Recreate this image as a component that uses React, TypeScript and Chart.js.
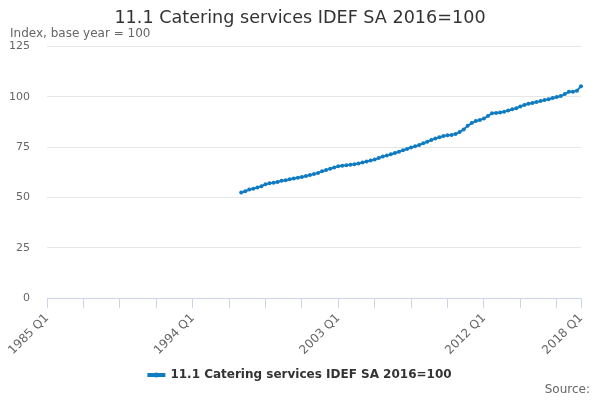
import { Chart, registerables, Plugin } from 'chart.js';
import React, { useEffect, useRef } from 'react';

Chart.register(...registerables);

const titleText = '11.1 Catering services IDEF SA 2016=100';
const subtitleText = 'Index, base year = 100';
const seriesName = '11.1 Catering services IDEF SA 2016=100';

const firstYear = 1985;
const lastYear = 2018;
const dataStart = '1997 Q1';

const yTicks = [0, 25, 50, 75, 100, 125];
const labelledQuarters = ['1985 Q1', '1994 Q1', '2003 Q1', '2012 Q1', '2018 Q1'];

// quarterly index values, 1997 Q1 .. 2018 Q1
const values = [
  52.4, 53.1, 53.9, 54.3,
  54.9, 55.6, 56.6, 57.0,
  57.3, 57.7, 58.3, 58.6,
  59.0, 59.4, 59.8, 60.2,
  60.6, 61.1, 61.6, 62.2,
  63.0, 63.6, 64.3, 64.9,
  65.5, 65.8, 66.0, 66.2,
  66.5, 66.9, 67.4, 67.9,
  68.4, 68.9, 69.6, 70.3,
  70.9, 71.5, 72.1, 72.7,
  73.5, 74.1, 74.8, 75.4,
  76.1, 76.9, 77.7, 78.5,
  79.3, 79.9, 80.5, 80.9,
  81.1, 81.6, 82.5, 83.8,
  85.6, 87.0, 88.0, 88.5,
  89.2, 90.5, 91.8, 92.0,
  92.2, 92.6, 93.2, 93.8,
  94.4, 95.2, 96.0, 96.6,
  97.0, 97.4, 97.9, 98.4,
  98.8, 99.4, 99.9, 100.4,
  101.4, 102.5, 102.6, 103.1,
  105.3,
];

const quarters: string[] = [];
for (let y = firstYear; y <= lastYear; y++) {
  for (let q = 1; q <= 4; q++) {
    if (y === lastYear && q > 1) break;
    quarters.push(`${y} Q${q}`);
  }
}

const startIdx = quarters.indexOf(dataStart);
const series: (number | null)[] = quarters.map((_, i) =>
  i < startIdx ? null : values[i - startIdx] ?? null
);

const blue = '#0f7cc2';
const font = "'DejaVu Sans', sans-serif";

// legend symbol: line with a dot, and the source note
const extras: Plugin = {
  id: 'extras',
  afterDraw(chart) {
    const ctx = chart.ctx;
    const legend: any = chart.legend;
    const box = legend?.legendHitBoxes?.[0];
    ctx.save();
    if (box) {
      const cx = box.left + 8;
      const cy = box.top + box.height / 2;
      ctx.fillStyle = blue;
      ctx.beginPath();
      ctx.arc(cx, cy, 2.5, 0, Math.PI * 2);
      ctx.fill();
    }
    ctx.fillStyle = '#666';
    ctx.font = `12px ${font}`;
    ctx.textAlign = 'right';
    ctx.textBaseline = 'middle';
    ctx.fillText('Source:', 590, 390);
    ctx.restore();
  },
};

const App: React.FC = () => {
  const ref = useRef<HTMLCanvasElement>(null);

  useEffect(() => {
    if (!ref.current) return;
    const chart = new Chart(ref.current, {
      type: 'line',
      data: {
        labels: quarters,
        datasets: [
          {
            label: seriesName,
            data: series,
            borderColor: blue,
            backgroundColor: blue,
            borderWidth: 2,
            pointRadius: 2,
            pointBorderWidth: 0,
            pointBackgroundColor: blue,
          },
        ],
      },
      options: {
        animation: false,
        responsive: false,
        layout: { padding: { left: 10, right: 10, top: 10, bottom: 9 } },
        plugins: {
          title: {
            display: true,
            text: titleText,
            color: '#333',
            font: { family: font, size: 17.6, weight: 'normal', lineHeight: 1 },
            padding: { top: 0, bottom: 0 },
          },
          subtitle: {
            display: true,
            text: subtitleText,
            align: 'start',
            color: '#666',
            font: { family: font, size: 12, lineHeight: 1 },
            padding: { top: 0, bottom: 7 },
          },
          legend: {
            position: 'bottom',
            labels: {
              color: '#333',
              font: { family: font, size: 12, weight: 'bold' },
              boxWidth: 16,
              boxHeight: 2,
              padding: 14,
            },
          },
          tooltip: { enabled: false },
        },
        scales: {
          x: {
            afterFit: (axis: any) => {
              axis.paddingLeft = 0;
              axis.paddingRight = 19;
              axis.height = 57;
            },
            grid: {
              drawOnChartArea: false,
              drawTicks: true,
              tickLength: 10,
              color: (c: any) =>
                c.index % 9 === 0 || c.index === quarters.length - 1 ? '#ccd6eb' : 'transparent',
            },
            border: { color: '#ccd6eb' },
            ticks: {
              autoSkip: false,
              maxRotation: 45,
              minRotation: 45,
              color: '#666',
              font: { family: font, size: 12 },
              callback: (_v: any, i: number) =>
                labelledQuarters.includes(quarters[i]) ? quarters[i] : '',
            },
          },
          y: {
            min: yTicks[0],
            max: yTicks[yTicks.length - 1],
            afterBuildTicks: (axis: any) => {
              axis.ticks = yTicks.map((v) => ({ value: v }));
            },
            afterFit: (axis: any) => {
              axis.width = 37;
            },
            grid: { color: '#e6e6e6', drawTicks: false },
            border: { display: false },
            ticks: {
              color: '#666',
              padding: 17,
              font: { family: font, size: 11 },
            },
          },
        },
      },
      plugins: [extras],
    });
    return () => chart.destroy();
  }, []);

  return (
    <div style={{ position: 'fixed', left: 0, top: 0, width: 600, height: 400, background: '#fff' }}>
      <canvas ref={ref} width={600} height={400} />
    </div>
  );
};

export default App;
